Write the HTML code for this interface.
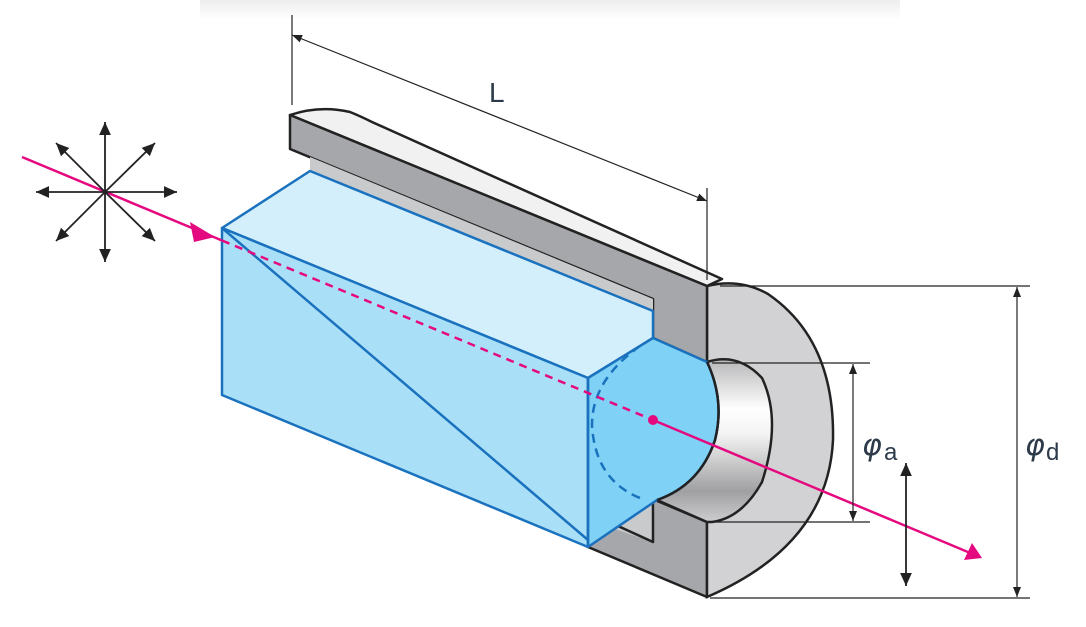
<!DOCTYPE html>
<html><head><meta charset="utf-8"><style>html,body{margin:0;padding:0;background:#fff}svg{display:block}</style></head>
<body>
<svg width="1086" height="627" viewBox="0 0 1086 627" xmlns="http://www.w3.org/2000/svg">
<defs>
<linearGradient id="top" x1="0" y1="0" x2="0" y2="1"><stop offset="0" stop-color="#eeeeee"/><stop offset="1" stop-color="#ffffff"/></linearGradient>
<linearGradient id="bore" gradientUnits="userSpaceOnUse" x1="0" y1="360" x2="0" y2="524">
<stop offset="0" stop-color="#b8b8ba"/><stop offset="0.3" stop-color="#ffffff"/><stop offset="0.45" stop-color="#f4f4f4"/><stop offset="0.8" stop-color="#a0a0a2"/><stop offset="1" stop-color="#d0d0d2"/></linearGradient>
<marker id="ah" viewBox="0 0 10 10" refX="10" refY="5" markerWidth="10" markerHeight="10" markerUnits="userSpaceOnUse" orient="auto-start-reverse"><path d="M0,1 L10,5 L0,9 Z" fill="#222"/></marker>
<marker id="ahb" viewBox="0 0 10 10" refX="10" refY="5" markerWidth="13" markerHeight="13" markerUnits="userSpaceOnUse" orient="auto-start-reverse"><path d="M0,0.5 L10,5 L0,9.5 Z" fill="#222"/></marker>
</defs>
<rect x="200" y="0" width="700" height="20" fill="url(#top)"/>

<!-- lower housing -->
<path d="M588,547 L707,597 L707,522 L655,500 L620,520 Z" fill="#a6a7aa" stroke="#222" stroke-width="2.5" stroke-linejoin="round"/>
<path d="M655,500 L612,528 L653,542 Z" fill="#c9cacc"/>
<path d="M653,502 L653,542 L618,526" fill="none" stroke="#222" stroke-width="2.5" stroke-linejoin="round"/>
<!-- housing front face outer -->
<path d="M707,286 Q740,278 768,294 Q835,340 833,440 Q828,545 707,597 Z" fill="#d2d2d4" stroke="#222" stroke-width="2.5"/>
<!-- bore -->
<path d="M707,362 Q738,352 762,378 Q782,420 762,482 Q742,518 712,522 L707,522 L657,500 Q700,485 715,440 Q725,400 707,362 Z" fill="url(#bore)" stroke="#222" stroke-width="2.5" stroke-linejoin="round"/>
<!-- top bar top surface -->
<path d="M290,115 Q320,105 350,112 Q360,116 372,122 L722,279 L707,286 Z" fill="#f1f1f2" stroke="#222" stroke-width="2.5" stroke-linejoin="round"/>
<path d="M290,115 L707,286 L707,362 L653,338 L653,299 L290,149 Z" fill="#a6a7aa" stroke="#222" stroke-width="2.5" stroke-linejoin="round"/>
<!-- gray strip between bar and prism -->
<path d="M310,157 L653,299 L653,311 L310,171 Z" fill="#c9cacc"/>
<!-- prism top face -->
<path d="M222,228 L310,171 L653,311 L653,338 L588,378 Z" fill="#d4effc" stroke="#1a72be" stroke-width="2.5" stroke-linejoin="round"/>
<!-- prism front face -->
<path d="M222,228 L588,378 L588,547 L222,395 Z" fill="#aadff8" stroke="#1a72be" stroke-width="2.5" stroke-linejoin="round"/>
<line x1="222" y1="228" x2="588" y2="540" stroke="#1a72be" stroke-width="2.5"/>
<!-- prism end face -->
<path d="M588,378 L653,338 L707,362 Q725,400 715,440 Q700,485 657,500 L588,547 Z" fill="#7fd1f5" stroke="#1a72be" stroke-width="2.5" stroke-linejoin="round"/>
<path d="M707,362 Q725,400 715,440 Q700,485 657,500" fill="none" stroke="#222" stroke-width="2.5"/>
<path d="M640,346 Q592,380 592,425 Q595,480 640,498" fill="none" stroke="#1a72be" stroke-width="2.5" stroke-dasharray="9,6"/>
<line x1="588" y1="378" x2="588" y2="547" stroke="#1a72be" stroke-width="2.5"/>

<!-- beam -->
<line x1="22" y1="157" x2="222" y2="240.5" stroke="#e5097f" stroke-width="2.5"/>
<path d="M190,222 L215,237 L194,242 Z" fill="#e5097f"/>
<line x1="222" y1="240.5" x2="653" y2="420" stroke="#e5097f" stroke-width="2.5" stroke-dasharray="8,6"/>
<circle cx="653" cy="420" r="5" fill="#e5097f"/>
<line x1="653" y1="420" x2="975" y2="555" stroke="#e5097f" stroke-width="2.5"/>
<path d="M972,543 L982,558 L964,560 Z" fill="#e5097f"/>

<!-- polarization star -->
<g stroke="#222" stroke-width="1.8">
<line x1="105" y1="192" x2="105" y2="122" marker-end="url(#ahb)"/>
<line x1="105" y1="192" x2="105" y2="262" marker-end="url(#ahb)"/>
<line x1="105" y1="192" x2="36" y2="192" marker-end="url(#ahb)"/>
<line x1="105" y1="192" x2="177" y2="192" marker-end="url(#ahb)"/>
<line x1="105" y1="192" x2="56" y2="143" marker-end="url(#ahb)"/>
<line x1="105" y1="192" x2="155" y2="143" marker-end="url(#ahb)"/>
<line x1="105" y1="192" x2="56" y2="241" marker-end="url(#ahb)"/>
<line x1="105" y1="192" x2="155" y2="241" marker-end="url(#ahb)"/>
</g>

<!-- dimensions -->
<g stroke="#222" stroke-width="1.2" fill="none">
<line x1="292" y1="15" x2="292" y2="105"/>
<line x1="707" y1="188" x2="707" y2="280"/>
<line x1="292" y1="35" x2="707" y2="201" marker-start="url(#ah)" marker-end="url(#ah)"/>
<line x1="720" y1="286" x2="1030" y2="286"/>
<line x1="710" y1="598" x2="1030" y2="598"/>
<line x1="1017" y1="287" x2="1017" y2="597" marker-start="url(#ah)" marker-end="url(#ah)"/>
<line x1="712" y1="363" x2="870" y2="363"/>
<line x1="712" y1="522" x2="870" y2="522"/>
<line x1="853" y1="364" x2="853" y2="521" marker-start="url(#ah)" marker-end="url(#ah)"/>
</g>
<line x1="906" y1="463" x2="906" y2="586" stroke="#222" stroke-width="1.8" marker-start="url(#ahb)" marker-end="url(#ahb)"/>

<g font-family="'Liberation Sans', 'DejaVu Sans', sans-serif" fill="#2d3a4a">
<text x="489" y="102" font-size="28">L</text>
<text x="862" y="455" font-size="30" font-style="italic" font-family="'DejaVu Sans', sans-serif">φ</text>
<text x="884" y="460" font-size="24">a</text>
<text x="1025" y="455" font-size="30" font-style="italic" font-family="'DejaVu Sans', sans-serif">φ</text>
<text x="1046" y="460" font-size="24">d</text>
</g>
</svg>
</body></html>
